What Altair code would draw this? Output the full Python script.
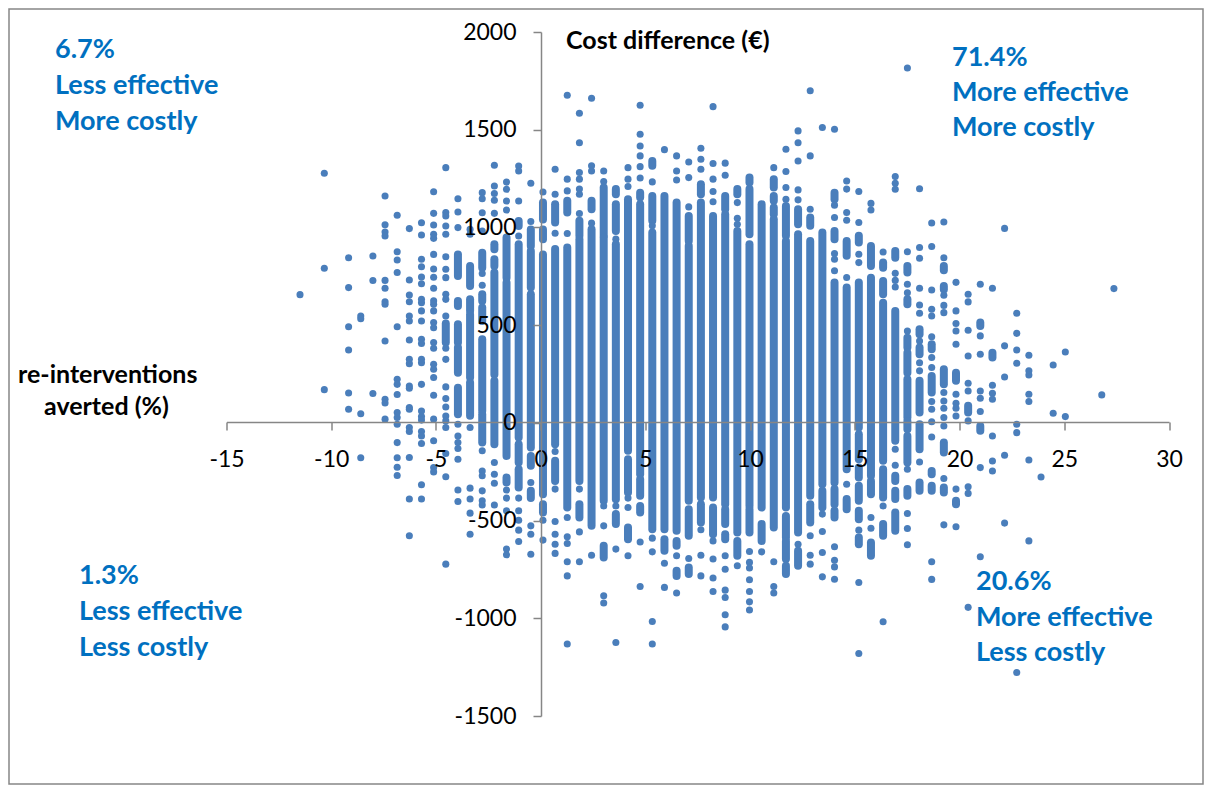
import altair as alt
import pandas as pd

# Vertical columns of the scatter: effect (%) of each column
column_x = [-11.49,-10.33,-9.17,-8.59,-8.01,-7.43,-6.85,-6.27,-5.69,-5.11,-4.53,-3.95,-3.37,-2.79,-2.21,-1.63,-1.05,-0.47,
            0.11,0.69,1.27,1.85,2.43,3.01,3.59,4.17,4.75,5.33,5.91,6.49,7.07,7.65,8.23,8.81,9.39,9.97,10.55,11.13,11.71,
            12.29,12.87,13.45,14.03,14.61,15.19,15.77,16.35,16.93,17.51,18.09,18.67,19.25,19.83,20.41,20.99,21.57,22.15,
            22.73,23.31,23.89,24.47,25.05,26.79,27.37]

# Isolated dots per column: cost difference (EUR)
column_dots = [
 [656],[1277,791,170],[845,692,492,373,153,70],[547,533,47,-179],[854,728,150],
 [1161,1014,977,956,729,689,620,607,419,121,102,19],
 [1062,876,833,769,492,223,197,145,53,27,-7,-101,-179,-227,-269],
 [994,731,654,620,547,521,424,325,303,189,177,78,70,-24,-44,-177,-390,-578],
 [1024,961,837,799,746,712,632,615,573,521,428,406,325,308,197,61,32,14,-44,-67,-106,-317,-390],
 [1183,1072,1012,965,944,862,787,745,689,624,607,573,513,487,411,382,300,274,232,141,19,-92,-228,-251],
 [1306,1076,1059,1007,965,850,786,743,658,632,547,382,325,184,124,81,35,10,-24,-157,-276,-723],
 [1147,1079,999,-7,-67,-101,-131,-186,-344,-402],
 [990,965,-24,-334,-390,-462,-570],
 [1178,1147,1075,982,764,704,-143,-246,-271,-348,-399,-420],
 [1318,1212,1174,1139,1072,-203,-263,-309,-420],
 [1232,1195,1135,1089,-344,-385,-450,-646,-675],
 [1314,1289,1135,956,-385,-450,-498,-549,-607],
 [1226,1030,-305,-527,-570,-672],
 [1181,-498,-600],
 [1298,1170,970,-147,-339,-505,-570,-621,-668],
 [1676,1247,1187,969,-484,-583,-617,-711,-783,-1132],
 [1584,1433,1281,1247,1196,1170,1071,-339,-558,-711],
 [1661,1315,1289,1022,-677],
 [1289,1235,-425,-527,-885,-922],
 [940,-425,-646,-1124],
 [1306,1247,1209,-385,-433,-680],
 [1625,1477,1417,1366,1311,1253,-610,-837],
 [1233,1008,-590,-660,-1016,-1132],
 [1398,-718,-842],
 [1366,1289,1243,-680,-871],
 [1335,1255,1105,-694],
 [1405,1349,1298,-547,-677,-783],
 [1618,1327,1247,1184,1131,-604,-697,-794,-863],
 [1329,1267,-680,-749,-856,-894,-982,-1044],
 [1127,1047,1016,-731],
 [-658,-714,-743,-803,-863,-916,-958],
 [-660],
 [1306,-711,-837,-871],
 [1400,1286,1204,1144],
 [1494,1433,1340,1192,1141,-621],
 [1699,1366,1093,-578,-677,-723],
 [1511,-467,-556,-663,-788],
 [1502,1114,1051,866,837,778,-634,-703,-737,-800],
 [1238,1196,1076,1037,744,-314],
 [1184,1025,863,820,-549,-817,-1180],
 [1123,1089,-484,-539],
 [874,-425,-1018],
 [1260,1226,1195,765,729,695,-135,-217],
 [1816,876,709,666,470,-237,-464,-541,-624],
 [1198,897,842,689,603,561,419,308,266,-200],
 [1023,902,680,581,547,441,334,283,109,70,6,-72,-711,-801],
 [1028,845,653,601,564,155,112,75,27,-16,-285,-522],
 [719,573,508,470,402,146,100,75,35,-339,-532],
 [658,619,474,342,203,163,10,-327,-361,-944],
 [709,445,351,163,126,58,-229,-685],
 [689,192,151,121,-67,-195,-246],
 [995,394,235,-166,-513],
 [561,458,373,305,-7,-50,-1277],
 [346,266,245,146,109,-190,-604],
 [-277],[296,49],[363,32],[143],[687],
]

# Stretches of each column where the dots overlap into an unbroken run (top, bottom)
column_runs = [
 [],[],[],[],[],[],[],[],[],[],
 [(509,411)],
 [(862,752),(624,598),(504,411),(385,257),(180,44)],
 [(803,700),(632,573),(555,232),(206,36)],
 [(871,794),(658,624),(590,521),(428,61),(44,-101)],
 [(914,888),(837,803),(769,248),(215,-110)],
 [(948,743),(718,-169),(-280,-305)],
 [(1033,1007),(914,-75),(-109,-203),(-237,-331)],
 [(990,905),(879,692),(658,-126),(-169,-220),(-348,-385)],
 [(1127,1041),(990,939),(862,-365),(-416,-459)],
 [(1119,1025),(889,-109),(-194,-297)],
 [(1136,1076),(897,-433)],
 [(1034,957),(940,-297),(-416,-484)],
 [(1136,1093),(991,-527)],
 [(1204,957),(948,-399),(-629,-689)],
 [(1196,1170),(1119,982),(914,-391),(-467,-518)],
 [(1144,-143),(-186,-356),(-535,-595)],
 [(1178,1153),(1119,-263),(-288,-373),(-425,-459)],
 [(1340,1315),(1161,1034),(974,-544)],
 [(1161,-544),(-595,-655)],
 [(1127,-552),(-604,-629),(-757,-783)],
 [(1059,931),(906,-399),(-442,-578),(-740,-774)],
 [(1221,1170),(1127,-382),(-416,-510)],
 [(1059,-382),(-433,-570)],
 [(1161,1093),(1068,-416),(-442,-518),(-570,-595)],
 [(1196,1170),(982,-561),(-604,-680)],
 [(1255,1230),(1196,965),(914,-425),(-442,-561)],
 [(1119,-433),(-518,-604)],
 [(1247,1204),(1161,1136),(1102,1068),(1042,-535)],
 [(1110,957),(931,-433),(-476,-587),(-604,-697),(-731,-774)],
 [(1093,1016),(965,-561),(-655,-731)],
 [(1051,1008),(931,-373),(-416,-510)],
 [(974,-314),(-348,-433)],
 [(1178,1144),(982,940),(718,-305),(-339,-416),(-450,-484)],
 [(931,855),(693,-237),(-390,-442)],
 [(957,923),(718,-24),(-58,-186),(-229,-280),(-322,-399),(-450,-493),(-587,-621)],
 [(905,803),(743,-271),(-297,-365),(-612,-680)],
 [(820,794),(726,658),(615,-194),(-237,-382),(-518,-578)],
 [(879,845),(573,-92),(-271,-297),(-348,-390),(-459,-552)],
 [(803,769),(632,607),(436,385),(359,257),(223,27),(10,-33),(-67,-203),(-339,-373)],
 [(479,453),(385,351),(215,53),(-7,-135),(-305,-348)],
 [(402,377),(240,155),(-246,-263),(-322,-348)],
 [(803,781),(700,683),(274,197),(-101,-152),(-331,-356)],
 [(257,215),(-399,-416)],
 [(87,53)],
 [(513,496),(-16,-41)],
 [(359,334)],
 [],[],[],[],[],[],[],[],
]

x_ticks = [-15,-10,-5,0,5,10,15,20,25,30]
y_ticks = [-1500,-1000,-500,0,500,1000,1500,2000]

BLUE = "#4A7EBB"
GREY = "#868686"
TEXT_BLUE = "#0070C0"
FONT = "Lato"

dots = pd.DataFrame([(x, y) for x, ys in zip(column_x, column_dots) for y in ys], columns=["x", "y"])
runs = pd.DataFrame([(x, a, b) for x, rs in zip(column_x, column_runs) for a, b in rs], columns=["x", "y", "y2"])

xs = alt.Scale(domain=[-15, 30], nice=False, zero=False)
ys = alt.Scale(domain=[-1500, 2000], nice=False, zero=False)

x_axis = alt.Axis(orient="bottom", offset=-294, values=x_ticks, grid=False, title=None, labelExpr="'' + datum.value",
                  labelFont=FONT, labelFontSize=23, labelColor="#000000", labelPadding=18, labelFlush=False,
                  labelOverlap=False, domainColor=GREY, domainWidth=1.5, tickColor=GREY, tickWidth=1.5, tickSize=8, zindex=1)
y_axis = alt.Axis(orient="left", offset=-314.5, values=y_ticks, grid=False, title=None, labelExpr="'' + datum.value",
                  labelFont=FONT, labelFontSize=23, labelColor="#000000", labelPadding=17, labelFlush=False,
                  labelOverlap=False, domainColor=GREY, domainWidth=1.5, tickColor=GREY, tickWidth=1.5, tickSize=8, zindex=1)

run_layer = alt.Chart(runs).mark_rule(color=BLUE, strokeWidth=8, strokeCap="round", opacity=1).encode(
    x=alt.X("x:Q", scale=xs, axis=x_axis),
    y=alt.Y("y:Q", scale=ys, axis=y_axis),
    y2="y2:Q",
)
dot_layer = alt.Chart(dots).mark_circle(color=BLUE, size=50, opacity=1).encode(
    x=alt.X("x:Q", scale=xs),
    y=alt.Y("y:Q", scale=ys),
)

frame = alt.Chart(pd.DataFrame({"a": [0]})).mark_rect(fillOpacity=0, stroke=GREY, strokeWidth=1.5).encode(
    x=alt.value(-217.5), x2=alt.value(976.5), y=alt.value(-23), y2=alt.value(752)
)

def label(text, page_x, page_y, size, color, weight="bold", align="left"):
    return alt.Chart(pd.DataFrame({"a": [0]})).mark_text(
        text=text, font=FONT, fontSize=size, fontWeight=weight, color=color, align=align, baseline="alphabetic"
    ).encode(x=alt.value(page_x - 226.5), y=alt.value(page_y - 32))

B = 27
K = 25
notes = [
    label("6.7%", 55, 58, B, TEXT_BLUE), label("Less effective", 55, 94, B, TEXT_BLUE), label("More costly", 55, 130, B, TEXT_BLUE),
    label("71.4%", 952, 66, B, TEXT_BLUE), label("More effective", 952, 101, B, TEXT_BLUE), label("More costly", 952, 136, B, TEXT_BLUE),
    label("1.3%", 79, 584, B, TEXT_BLUE), label("Less effective", 79, 620, B, TEXT_BLUE), label("Less costly", 79, 656, B, TEXT_BLUE),
    label("20.6%", 976, 590, B, TEXT_BLUE), label("More effective", 976, 626, B, TEXT_BLUE), label("Less costly", 976, 661, B, TEXT_BLUE),
    label("Cost difference (€)", 566, 49, K, "#000000"),
    label("re-interventions", 18, 383, K, "#000000"),
    label("averted (%)", 44, 415, K, "#000000"),
]

chart = alt.layer(frame, run_layer, dot_layer, *notes).properties(
    width=942.5, height=684,
    padding={"left": 218.5, "top": 24, "right": 35, "bottom": 69},
    autosize=alt.AutoSizeParams(type="none"),
    background="#FFFFFF",
).configure_view(stroke=None)

chart.save("out.html", embed_options={"renderer": "svg", "actions": False})
